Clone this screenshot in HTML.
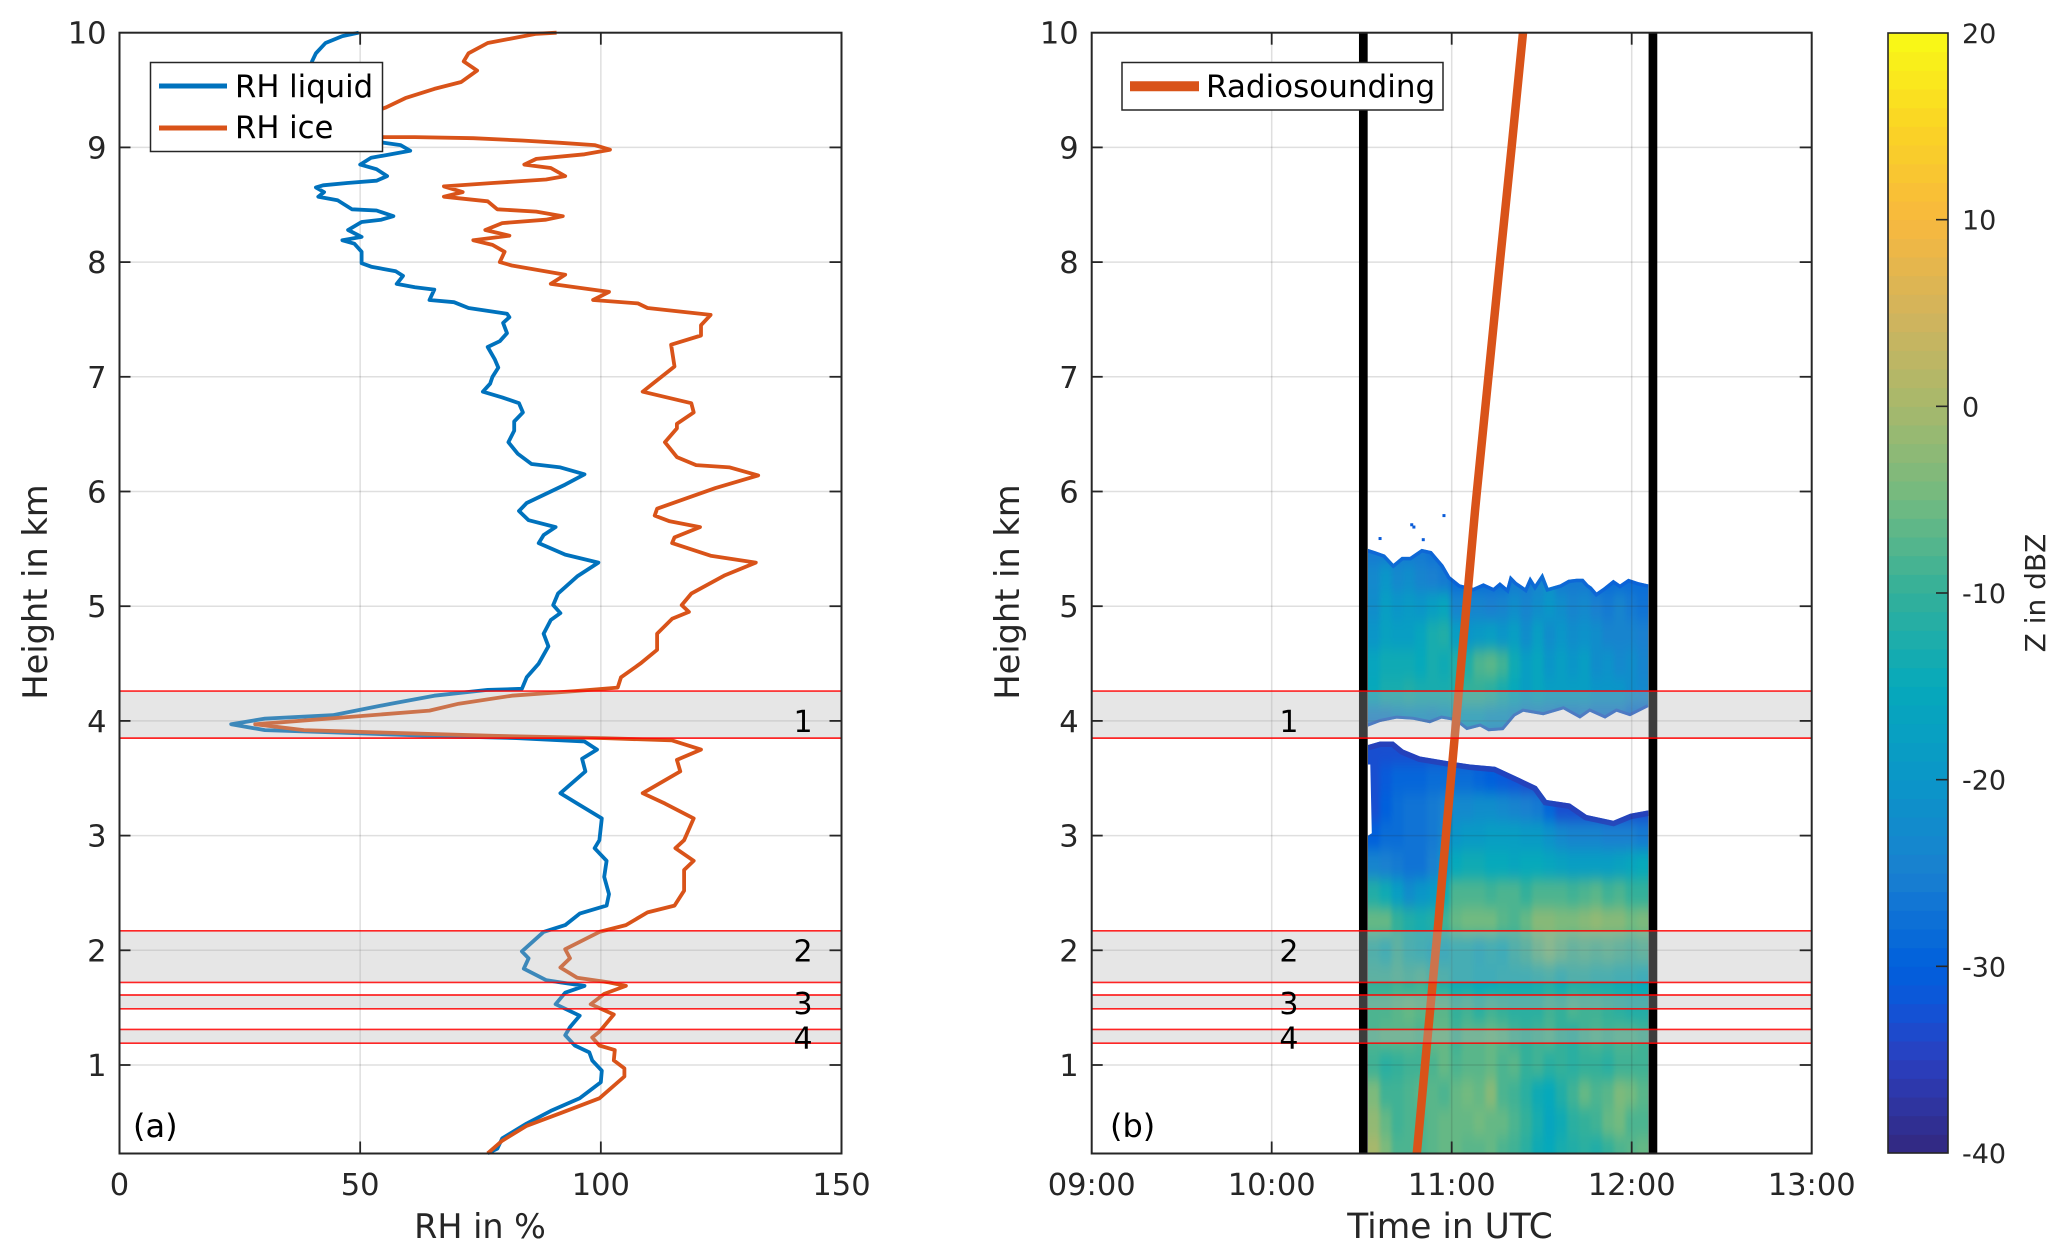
<!DOCTYPE html>
<html>
<head>
<meta charset="utf-8">
<title>RH profile and radar reflectivity</title>
<style>
html,body{margin:0;padding:0;background:#fff;}
svg{display:block;font-family:"DejaVu Sans","Liberation Sans",sans-serif;}
</style>
</head>
<body>
<svg id="figure" xmlns="http://www.w3.org/2000/svg" width="2067" height="1260" viewBox="0 0 2067 1260">
  <rect width="2067" height="1260" fill="#fff"/>
  <defs>
    <filter id="radarBlur" filterUnits="userSpaceOnUse" x="1300" y="450" width="420" height="760" color-interpolation-filters="sRGB">
      <feGaussianBlur stdDeviation="2.2 7"/>
    </filter>
    <clipPath id="radarClip"></clipPath>
    <clipPath id="panelAClip"><rect x="119.5" y="26" width="722" height="1127.5"/></clipPath>
  </defs>
  <g id="panelA"></g>
  <g id="panelB"></g>
  <g id="colorbar"></g>

  <text transform="translate(47,592) rotate(-90)" text-anchor="middle" font-size="33.6" fill="#262626">Height in km</text>
  <text x="480" y="1238" text-anchor="middle" font-size="33.4" fill="#262626">RH in %</text>
  <text transform="translate(1019,592) rotate(-90)" text-anchor="middle" font-size="33.6" fill="#262626">Height in km</text>
  <text x="1450" y="1238" text-anchor="middle" font-size="34.4" fill="#262626">Time in UTC</text>
  <text transform="translate(2045,593) rotate(-90)" text-anchor="middle" font-size="28" fill="#262626">Z in dBZ</text>
  <text x="133" y="1137" font-size="32" fill="#000">(a)</text>
  <text x="1110" y="1137" font-size="32" fill="#000">(b)</text>

  <g>
    <rect x="150.5" y="62.5" width="232" height="89" fill="#fff" stroke="#262626" stroke-width="1.5"/>
    <line x1="159" x2="227" y1="86" y2="86" stroke="#0072bd" stroke-width="5"/>
    <text x="235" y="97" font-size="30.7" fill="#000">RH liquid</text>
    <line x1="159" x2="227" y1="128" y2="128" stroke="#d95319" stroke-width="5"/>
    <text x="235" y="138" font-size="30.7" fill="#000">RH ice</text>
  </g>
  <g>
    <rect x="1122" y="62.5" width="321" height="47.5" fill="#fff" stroke="#262626" stroke-width="1.5"/>
    <line x1="1130" x2="1199" y1="86.3" y2="86.3" stroke="#d95319" stroke-width="10"/>
    <text x="1206" y="97" font-size="31" fill="#000">Radiosounding</text>
  </g>
</svg>
<script>
// ---- Panel (a): relative humidity profiles ----
const liquidHeight = [10.0,9.97,9.91,9.82,9.75,9.59,9.38,9.15,9.04,9.02,8.97,8.94,8.91,8.85,8.81,8.75,8.71,8.69,8.67,8.65,8.61,8.57,8.54,8.46,8.45,8.40,8.37,8.35,8.28,8.22,8.19,8.16,8.09,7.99,7.96,7.92,7.88,7.81,7.78,7.76,7.67,7.65,7.60,7.55,7.52,7.47,7.38,7.31,7.26,7.15,7.08,7.00,6.94,6.87,6.82,6.77,6.69,6.61,6.53,6.43,6.33,6.24,6.21,6.15,6.06,5.90,5.83,5.75,5.69,5.62,5.55,5.45,5.38,5.26,5.11,5.01,4.94,4.88,4.76,4.65,4.50,4.38,4.28,4.27,4.22,4.15,4.05,4.02,3.97,3.92,3.90,3.87,3.85,3.82,3.75,3.67,3.56,3.37,3.28,3.15,2.96,2.89,2.78,2.64,2.49,2.39,2.32,2.22,2.16,1.99,1.93,1.84,1.74,1.72,1.69,1.63,1.53,1.43,1.33,1.26,1.17,1.11,1.04,0.95,0.85,0.71,0.60,0.49,0.36,0.27,0.23];
const liquidRH = [49.7,46.3,42.8,40.8,40.0,39.3,40.3,44.3,54.9,58.4,60.4,56.4,52.3,50.0,53.4,55.6,53.4,47.3,42.3,40.8,42.5,41.3,45.3,48.3,53.4,56.9,54.4,50.3,47.5,50.3,46.3,48.8,50.3,50.3,52.3,57.4,58.9,57.6,61.4,65.4,64.4,69.5,72.5,80.5,81.0,79.7,80.5,79.0,76.5,78.0,78.7,77.5,77.0,75.5,79.5,83.0,83.8,82.0,82.0,80.8,82.7,85.6,91.6,96.6,92.6,84.6,83.0,85.0,90.6,88.1,87.1,92.6,99.5,95.1,91.1,90.1,91.6,89.6,88.1,89.1,87.1,84.6,83.6,76.5,65.4,56.4,44.3,30.2,23.2,30.2,44.3,64.4,82.5,96.6,99.2,96.1,96.8,91.6,95.1,100.2,99.7,98.7,101.2,100.7,101.7,101.2,95.6,92.6,88.1,83.6,85.0,84.0,88.6,91.6,96.6,92.6,90.6,95.6,93.6,92.6,94.6,97.6,98.2,100.2,100.0,95.6,89.6,84.6,79.5,78.5,76.5];

const iceHeight = [10.0,9.99,9.91,9.82,9.75,9.67,9.57,9.51,9.43,9.35,9.30,9.18,9.11,9.09,9.09,9.08,9.06,9.04,9.02,8.98,8.94,8.90,8.85,8.82,8.75,8.72,8.69,8.66,8.61,8.57,8.53,8.46,8.44,8.40,8.37,8.34,8.28,8.23,8.19,8.15,8.09,8.00,7.97,7.89,7.81,7.74,7.67,7.64,7.60,7.54,7.45,7.36,7.28,7.09,6.97,6.87,6.77,6.69,6.59,6.55,6.43,6.30,6.23,6.21,6.14,6.03,5.85,5.79,5.74,5.69,5.60,5.55,5.44,5.38,5.27,5.11,5.01,4.95,4.89,4.76,4.62,4.50,4.38,4.29,4.26,4.22,4.15,4.09,4.03,3.97,3.92,3.90,3.87,3.85,3.83,3.75,3.66,3.56,3.37,3.28,3.15,2.96,2.89,2.78,2.70,2.52,2.39,2.33,2.22,2.16,2.01,1.93,1.85,1.76,1.72,1.69,1.62,1.53,1.44,1.29,1.24,1.17,1.13,1.04,0.97,0.90,0.71,0.58,0.47,0.34,0.23];
const iceRH = [90.8,86.6,76.5,72.5,71.5,74.3,71.0,65.4,59.4,55.4,52.3,49.3,50.3,54.9,61.4,73.5,83.6,91.6,98.7,101.9,96.6,86.6,84.1,89.6,92.6,88.6,77.5,67.4,71.3,67.4,76.5,78.5,86.6,92.1,88.6,79.5,76.0,81.0,73.5,77.5,80.0,79.0,81.5,92.6,89.6,101.7,98.4,107.7,109.7,122.8,120.8,120.8,114.6,115.3,111.7,108.7,118.8,119.3,115.8,115.8,113.3,115.8,119.8,126.8,132.7,123.8,111.7,111.2,114.3,120.6,115.3,114.8,122.8,132.2,125.8,118.8,116.8,118.3,114.8,111.7,111.7,108.2,104.2,103.5,94.6,81.5,70.5,64.4,46.3,28.2,38.3,53.4,77.5,100.7,114.8,120.8,115.8,116.5,108.7,113.3,119.3,117.3,115.5,119.3,117.3,117.3,115.3,109.7,105.2,99.7,92.6,93.6,91.6,95.1,101.7,105.2,100.7,97.9,102.7,99.7,98.2,99.7,102.9,102.7,104.9,104.9,99.7,91.6,84.6,79.5,76.5];

const rhTicks = [0,50,100,150];
const heightTicks = [1,2,3,4,5,6,7,8,9,10];
const heightTickLabels = ["1","2","3","4","5","6","7","8","9","10"];

// Highlighted layers, shared by both panels
const bandLabels = ["1","2","3","4"];
const bandTop = [4.26,2.17,1.61,1.31];
const bandBottom = [3.85,1.72,1.49,1.19];
const bandLabelHeight = [4.0,2.0,1.54,1.24];

// ---- Panel (b): radar reflectivity and radiosonde track ----
const timeTicks = [9,10,11,12,13];
const timeTickLabels = ["09:00","10:00","11:00","12:00","13:00"];
const radarStartEnd = [10.509,12.118];

const soundingHeight = [10,9,8,7,6,5.84,4.27,3.08,2.18,1.31,0.61,0.23];
const soundingTime = [11.396,11.333,11.268,11.204,11.14,11.13,11.04,10.972,10.922,10.87,10.829,10.806];

const zTimes = [10.568,10.633,10.698,10.763,10.828,10.893,10.958,11.023,11.088,11.153,11.218,11.283,11.348,11.413,11.478,11.543,11.608,11.673,11.738,11.803,11.868,11.933,11.998,12.063];
const zHeights = [5.5,5.25,5.0,4.75,4.5,4.25,4.0,3.75,3.5,3.25,3.0,2.75,2.5,2.25,2.0,1.75,1.5,1.25,1.0,0.75,0.5,0.25];
const zValues = [
[-26,-26,-26,-26,-26,-27,-28,-28,-28,-28,-28,-28,-28,-28,-28,-28,-28,-28,-28,-28,-28,-28,-28,-28],
[-23,-20,-23,-22,-24,-25,-26,-28,-28,-28,-28,-28,-26,-26,-24,-22,-26,-26,-26,-28,-28,-28,-28,-28],
[-22,-18,-20,-19,-20,-18,-16,-24,-24,-24,-25,-24,-22,-24,-22,-20,-22,-24,-23,-25,-26,-24,-26,-27],
[-20,-17,-18,-18,-16,-13,-12,-18,-20,-19,-18,-20,-18,-22,-18,-22,-20,-22,-21,-22,-24,-24,-24,-25],
[-16,-14,-14,-14,-15,-13,-14,-12,-12,-8,-7,-9,-14,-18,-16,-20,-18,-20,-18,-22,-21,-23,-22,-24],
[-15,-13,-13,-12,-13,-13,-13,-12,-10,-10,-11,-13,-15,-18,-16,-18,-18,-18,-18,-20,-20,-20,-22,-23],
[-24,-24,-22,-21,-21,-22,-20,-18,-18,-18,-20,-20,-22,-24,-24,-25,-26,-26,-25,-26,-26,-26,-28,-28],
[-33,-33,-33,-33,-33,-33,-33,-33,-33,-33,-33,-33,-33,-33,-33,-33,-33,-33,-33,-33,-33,-33,-33,-33],
[-33,-31,-29,-29,-29,-28,-28,-28,-28,-29,-30,-31,-32,-33,-33,-33,-33,-33,-33,-33,-33,-33,-33,-33],
[-33,-30,-28,-27,-27,-26,-25,-23,-23,-22,-22,-23,-24,-25,-26,-29,-33,-33,-33,-33,-33,-33,-33,-33],
[-30,-28,-28,-27,-27,-26,-24,-20,-19,-19,-18,-18,-18,-19,-19,-21,-23,-24,-24,-24,-25,-25,-25,-26],
[-24,-25,-26,-27,-27,-25,-21,-15,-14,-14,-15,-15,-16,-15,-15,-16,-17,-18,-18,-18,-18,-17,-16,-15],
[-12,-14,-18,-22,-20,-19,-14,-8,-8,-8,-9,-8,-8,-10,-8,-8,-8,-9,-8,-7,-9,-8,-10,-10],
[-6,-6,-10,-12,-13,-12,-9,-6,-5,-5,-5,-7,-8,-6,-3,-3,-4,-4,-3,-2,-3,-3,-5,-4],
[-12,-14,-10,-13,-14,-16,-16,-14,-14,-16,-14,-15,-12,-10,-7,-5,-7,-9,-8,-9,-8,-9,-10,-9],
[-10,-10,-9,-10,-9,-11,-12,-14,-14,-15,-15,-14,-14,-14,-13,-12,-14,-12,-12,-13,-13,-14,-14,-15],
[-8,-8,-7,-6,-7,-7,-7,-10,-9,-11,-9,-10,-11,-11,-11,-9,-10,-8,-9,-9,-10,-11,-12,-12],
[-8,-7,-7,-7,-8,-6,-6,-9,-7,-7,-6,-7,-9,-10,-9,-8,-10,-11,-9,-8,-9,-8,-8,-9],
[-9,-11,-10,-9,-9,-8,-6,-8,-7,-7,-6,-8,-7,-10,-9,-11,-10,-11,-10,-10,-11,-9,-9,-9],
[-4,-9,-9,-8,-7,-7,-8,-6,-5,-6,-3,-8,-9,-11,-14,-15,-12,-9,-6,-8,-7,-4,-5,-7],
[-2,-6,-9,-8,-8,-7,-6,-6,-6,-5,-6,-6,-8,-10,-13,-16,-14,-11,-10,-9,-6,-5,-8,-8],
[0,-4,-8,-8,-8,-7,-6,-6,-7,-7,-6,-8,-9,-11,-14,-15,-13,-12,-11,-12,-10,-8,-7,-6]
];

const cloudTopTime = [10.535,10.574,10.629,10.676,10.722,10.768,10.833,10.889,10.954,10.991,11.046,11.120,11.176,11.231,11.268,11.305,11.324,11.361,11.407,11.435,11.463,11.505,11.537,11.602,11.648,11.694,11.731,11.759,11.778,11.805,11.842,11.898,11.935,11.981,12.037,12.092];
const cloudTopHeight = [5.50,5.48,5.45,5.37,5.43,5.43,5.50,5.48,5.36,5.26,5.19,5.16,5.20,5.16,5.21,5.16,5.27,5.21,5.16,5.26,5.19,5.29,5.16,5.19,5.23,5.24,5.24,5.19,5.17,5.12,5.16,5.23,5.19,5.24,5.21,5.19];
const cloudBaseTime = [10.535,10.602,10.694,10.787,10.879,10.944,11.018,11.083,11.157,11.204,11.287,11.352,11.398,11.509,11.620,11.713,11.768,11.852,11.916,11.991,12.092];
const cloudBaseHeight = [3.95,3.99,4.02,4.01,3.98,4.02,4.00,3.92,3.95,3.91,3.92,4.04,4.08,4.05,4.10,4.02,4.08,4.02,4.08,4.04,4.12];
const lowerTopTime = [10.535,10.602,10.676,10.731,10.824,10.972,11.102,11.241,11.379,11.472,11.528,11.657,11.750,11.898,11.991,12.092];
const lowerTopHeight = [3.79,3.82,3.82,3.75,3.69,3.65,3.62,3.60,3.50,3.43,3.31,3.28,3.18,3.13,3.19,3.22];
const notchTime = [10.535,10.556,10.548,10.535];
const notchHeight = [3.0,3.02,3.62,3.62];
const speckTime = [10.778,10.79,10.842,10.602,10.957];
const speckHeight = [5.71,5.69,5.58,5.59,5.79];

// ---- Colorbar ----
const colorbarTicks = [-40,-30,-20,-10,0,10,20];
const colorbarTickLabels = ["-40","-30","-20","-10","0","10","20"];
const cmapStops = [-40,-35,-32,-30,-25,-20,-15,-10,-5,0,5,10,15,20];
const cmapRed = [51,42,15,0,26,10,6,51,114,167,210,248,250,249];
const cmapGreen = [40,63,85,96,128,150,169,176,186,184,180,184,212,251];
const cmapBlue = [127,191,216,220,208,200,187,154,128,108,92,62,36,21];

// ---- Axis functions ----
const PLOT_TOP = 32.7, KM_PX = 114.7, PLOT_BOTTOM = 1153.5;
const A_LEFT = 119.5, A_RIGHT = 841.5, B_LEFT = 1091.7, B_RIGHT = 1811.7;
function yKm(h){ return PLOT_TOP + (10 - h) * KM_PX; }
function xRH(v){ return A_LEFT + v * (A_RIGHT - A_LEFT) / 150; }
function xTime(t){ return B_LEFT + (t - 9) * 180; }
function yDbz(z){ return 1153 - (z + 40) * 1120 / 60; }
function zColor(z){
  let i = 0;
  while (i < cmapStops.length - 2 && z > cmapStops[i + 1]) i++;
  const f = Math.max(0, Math.min(1, (z - cmapStops[i]) / (cmapStops[i + 1] - cmapStops[i])));
  const c = a => Math.round(a[i] + (a[i + 1] - a[i]) * f);
  return 'rgb(' + c(cmapRed) + ',' + c(cmapGreen) + ',' + c(cmapBlue) + ')';
}

const NS = 'http://www.w3.org/2000/svg';
function mk(parent, tag, attrs, text){
  const el = document.createElementNS(NS, tag);
  for (const k in attrs) el.setAttribute(k, attrs[k]);
  if (text !== undefined) el.textContent = text;
  parent.appendChild(el);
  return el;
}
function pts(xs, ys){ return xs.map((v, i) => v.toFixed(1) + ',' + ys[i].toFixed(1)).join(' '); }

const TICK = '#262626';
const GRID = 'rgba(38,38,38,0.15)';

function drawGrid(g, left, right, verticalXs){
  heightTicks.forEach(h => {
    const el = mk(g, 'line', {x1:left, x2:right, y1:yKm(h), y2:yKm(h), stroke:GRID, 'stroke-width':1.5});
    
    
  });
  verticalXs.forEach(x => {
    const el = mk(g, 'line', {x1:x, x2:x, y1:PLOT_TOP, y2:PLOT_BOTTOM, stroke:GRID, 'stroke-width':1.5});
    
    
  });
}

function drawBands(g, left, right, labelX){
  bandTop.forEach((top, i) => {
    const yT = yKm(top), yB = yKm(bandBottom[i]);
    const r = mk(g, 'rect', {x:left, y:yT, width:right - left, height:yB - yT, fill:'rgb(180,180,180)', 'fill-opacity':0.333});
    
    
    [yT, yB].forEach(y => {
      const l = mk(g, 'line', {x1:left, x2:right, y1:y, y2:y, stroke:'#f00', 'stroke-opacity':0.85, 'stroke-width':1.7});
      
      
    });
    const t = mk(g, 'text', {x:labelX, y:yKm(bandLabelHeight[i]) + 11, 'text-anchor':'middle', 'font-size':30, fill:'#000'}, bandLabels[i]);
    
    
  });
}

function drawFrame(g, left, right, xTickPositions, xTickLabels){
  const box = mk(g, 'rect', {x:left, y:PLOT_TOP, width:right - left, height:PLOT_BOTTOM - PLOT_TOP, fill:'none', stroke:TICK, 'stroke-width':2});
  
  
  heightTicks.forEach((h, i) => {
    const y = yKm(h);
    if (h < 10) {
      const a = mk(g, 'line', {x1:left, x2:left + 11, y1:y, y2:y, stroke:TICK, 'stroke-width':1.8});
      
      
      const b = mk(g, 'line', {x1:right - 12, x2:right, y1:y, y2:y, stroke:TICK, 'stroke-width':1.8});
      
      
    }
    const t = mk(g, 'text', {x:left - 13, y:y + 11, 'text-anchor':'end', 'font-size':30.5, fill:TICK}, heightTickLabels[i]);
    
    
  });
  xTickPositions.forEach((x, i) => {
    const inner = i > 0 && i < xTickPositions.length - 1;
    if (inner) {
      const a = mk(g, 'line', {x1:x, x2:x, y1:PLOT_BOTTOM - 12, y2:PLOT_BOTTOM, stroke:TICK, 'stroke-width':1.8});
      
      
      const b = mk(g, 'line', {x1:x, x2:x, y1:PLOT_TOP, y2:PLOT_TOP + 12, stroke:TICK, 'stroke-width':1.8});
      
      
    }
    const t = mk(g, 'text', {x:x, y:1195, 'text-anchor':'middle', 'font-size':30.5, fill:TICK}, xTickLabels[i]);
    
    
  });
}

// ---- Draw panel (a) ----
const gA = document.getElementById('panelA');
drawGrid(gA, A_LEFT, A_RIGHT, rhTicks.slice(1, -1).map(xRH));
const liquidLine = mk(gA, 'polyline', {points:pts(liquidRH.map(xRH), liquidHeight.map(yKm)), fill:'none', stroke:'#0072bd', 'stroke-width':3.8, 'stroke-linejoin':'round'});


const iceLine = mk(gA, 'polyline', {points:pts(iceRH.map(xRH), iceHeight.map(yKm)), fill:'none', stroke:'#d95319', 'stroke-width':3.8, 'stroke-linejoin':'round'});


drawBands(gA, A_LEFT, A_RIGHT, xRH(142));
drawFrame(gA, A_LEFT, A_RIGHT, rhTicks.map(xRH), rhTicks.map(String));

// ---- Draw panel (b) ----
const gB = document.getElementById('panelB');

// Radar clip outline, built from the cloud edge arrays
const upperX = cloudTopTime.map(xTime).concat(cloudBaseTime.map(xTime).reverse());
const upperY = cloudTopHeight.map(yKm).concat(cloudBaseHeight.map(yKm).reverse());
const lowerX = [xTime(zTimes[0] - 0.033)].concat(notchTime.map(xTime), lowerTopTime.map(xTime), [xTime(lowerTopTime[lowerTopTime.length - 1])]);
const lowerY = [PLOT_BOTTOM].concat(notchHeight.map(yKm), lowerTopHeight.map(yKm), [PLOT_BOTTOM]);
const clip = document.getElementById('radarClip');
mk(clip, 'polygon', {points:pts(upperX, upperY)});
mk(clip, 'polygon', {points:pts(lowerX, lowerY)});

const radarOuter = mk(gB, 'g', {'clip-path':'url(#radarClip)'});


const radarCells = mk(radarOuter, 'g', {filter:'url(#radarBlur)'});
const colW = xTime(zTimes[1]) - xTime(zTimes[0]);
zHeights.forEach((h, r) => {
  const yC = yKm(h);
  const y0 = r === 0 ? yC - 60 : (yKm(zHeights[r - 1]) + yC) / 2;
  const y1 = r === zHeights.length - 1 ? yC + 60 : (yKm(zHeights[r + 1]) + yC) / 2;
  zTimes.forEach((t, c) => {
    const xC = xTime(t);
    const x0 = c === 0 ? xC - colW / 2 - 40 : xC - colW / 2;
    const x1 = c === zTimes.length - 1 ? xC + colW / 2 + 40 : xC + colW / 2;
    const cell = mk(radarCells, 'rect', {x:x0.toFixed(1), y:y0.toFixed(1), width:(x1 - x0 + 0.5).toFixed(1), height:(y1 - y0 + 0.5).toFixed(1), fill:zColor(zValues[r][c])});
    
    
  });
});
// Darker fringe along the cloud edges
const edgeTop = mk(radarOuter, 'polyline', {points:pts(cloudTopTime.map(xTime), cloudTopHeight.map(yKm)), fill:'none', stroke:'#0a5cd8', 'stroke-width':7, 'stroke-opacity':0.6});


const edgeBase = mk(radarOuter, 'polyline', {points:pts(cloudBaseTime.map(xTime), cloudBaseHeight.map(yKm)), fill:'none', stroke:'#1f48c8', 'stroke-width':6, 'stroke-opacity':0.6});


const edgeLower = mk(radarOuter, 'polyline', {points:pts(lowerTopTime.map(xTime), lowerTopHeight.map(yKm)), fill:'none', stroke:'#2a3cb4', 'stroke-width':11, 'stroke-opacity':0.75});



speckTime.forEach((t, i) => {
  const s = mk(gB, 'rect', {x:xTime(t) - 1.5, y:yKm(speckHeight[i]) - 1.5, width:3, height:3, fill:'#0a5cd8'});
  
  
});

drawGrid(gB, B_LEFT, B_RIGHT, timeTicks.slice(1, -1).map(xTime));

radarStartEnd.forEach(t => {
  const l = mk(gB, 'line', {x1:xTime(t), x2:xTime(t), y1:PLOT_TOP, y2:PLOT_BOTTOM, stroke:'#000', 'stroke-width':8.7});
  
  
});

const soundingLine = mk(gB, 'polyline', {points:pts(soundingTime.map(xTime), soundingHeight.map(yKm)), fill:'none', stroke:'#d95319', 'stroke-width':8.5});



drawBands(gB, B_LEFT, B_RIGHT, xTime(10.096));
drawFrame(gB, B_LEFT, B_RIGHT, timeTicks.map(xTime), timeTickLabels);

// ---- Draw colorbar ----
const gC = document.getElementById('colorbar');
const CB_LEFT = 1888, CB_RIGHT = 1948;
for (let z = -40; z < 20; z++) {
  const seg = mk(gC, 'rect', {x:CB_LEFT, y:yDbz(z + 1).toFixed(1), width:CB_RIGHT - CB_LEFT, height:(yDbz(z) - yDbz(z + 1) + 0.5).toFixed(1), fill:zColor(z + 0.5)});
  
  
}
const cbBox = mk(gC, 'rect', {x:CB_LEFT, y:yDbz(20), width:CB_RIGHT - CB_LEFT, height:yDbz(-40) - yDbz(20), fill:'none', stroke:TICK, 'stroke-width':1.6});


colorbarTicks.forEach((z, i) => {
  const y = yDbz(z);
  if (i > 0 && i < colorbarTicks.length - 1) {
    const tk = mk(gC, 'line', {x1:CB_RIGHT - 12, x2:CB_RIGHT, y1:y, y2:y, stroke:TICK, 'stroke-width':1.6});
    
    
  }
  const t = mk(gC, 'text', {x:1962, y:y + 10, 'font-size':27, fill:TICK}, colorbarTickLabels[i]);
  
  
});
</script>
</body>
</html>
